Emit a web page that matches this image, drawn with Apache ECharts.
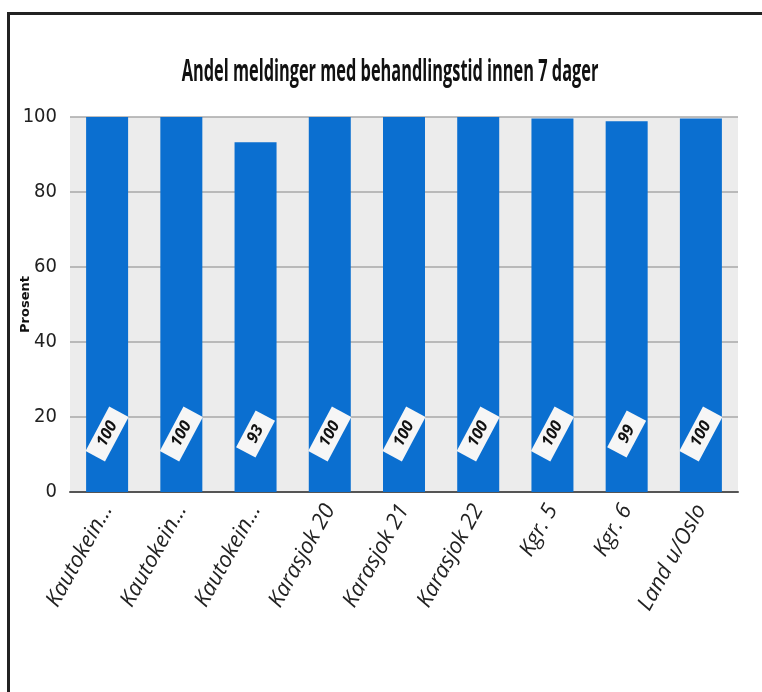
<!DOCTYPE html>
<html><head><meta charset="utf-8">
<script src="https://cdn.jsdelivr.net/npm/echarts@6/dist/echarts.min.js"></script>
<style>
html,body{margin:0;padding:0;background:#fff;}
#wrap{position:absolute;left:0;top:0;width:762px;height:692px;}
#frame{position:absolute;left:7px;top:12px;width:760px;height:690px;border-left:3px solid #222;border-top:3px solid #222;}
#c{position:absolute;left:0;top:0;width:762px;height:692px;}
</style></head>
<body><div id="wrap"><div id="frame"></div><div id="c"></div></div>
<script>
const categories = ["Kautokein...","Kautokein...","Kautokein...","Karasjok 20","Karasjok 21","Karasjok 22","Kgr. 5","Kgr. 6","Land u/Oslo"];
const values = [100,100,93.3,100,100,100,99.6,98.9,99.6];
const yTicks = [0,20,40,60,80,100];
const titleText = "Andel meldinger med behandlingstid innen 7 dager";
const yName = "Prosent";

const chart = echarts.init(document.getElementById('c'));
chart.setOption({
  backgroundColor: 'transparent',
  animation: false,
  graphic: [{
    type: 'text', x: 390, y: 72, scaleX: 0.545, scaleY: 1,
    style: {text: titleText, x: 0, y: 0, align: 'center', verticalAlign: 'middle',
      font: 'bold 30px "Open Sans", "DejaVu Sans", sans-serif', fill: '#111'}
  }],
  grid: {left: 70, right: 24, top: 117, bottom: 200, show: true, backgroundColor: '#ececec', borderWidth: 0},
  xAxis: {
    type: 'category', data: categories,
    axisLine: {lineStyle: {color: '#555', width: 2}},
    axisTick: {show: false},
    axisLabel: {rotate: 61, interval: 0, fontStyle: 'italic', fontFamily: 'Open Sans', fontSize: 22, color: '#222', margin: 14}
  },
  yAxis: {
    type: 'value', min: 0, max: 100, interval: 20,
    name: yName, nameLocation: 'middle', nameGap: 38, nameRotate: 90, nameMoveOverlap: false,
    nameTextStyle: {fontFamily: 'DejaVu Sans', fontWeight: 'bold', fontSize: 13, color: '#111'},
    axisLine: {show: false}, axisTick: {show: false},
    axisLabel: {fontFamily: "'DejaVu Sans Condensed', 'Liberation Sans'", fontSize: 20, color: '#222', margin: 13,
      formatter: v => yTicks.includes(v) ? String(v) : ''},
    splitLine: {lineStyle: {color: '#a8a8a8', width: 1.5}}
  },
  series: [{
    type: 'bar', data: values, barWidth: 42,
    itemStyle: {color: '#0b6fd0'},
    label: {
      show: true, position: 'insideBottom', distance: 58, rotate: 62,
      align: 'center', verticalAlign: 'middle',
      formatter: p => String(Math.round(p.value)),
      fontFamily: 'Open Sans', fontWeight: 'bold', fontStyle: 'italic', fontSize: 16, color: '#111',
      backgroundColor: '#f6f6f6', padding: [3, 12]
    }
  }]
});
</script></body></html>
